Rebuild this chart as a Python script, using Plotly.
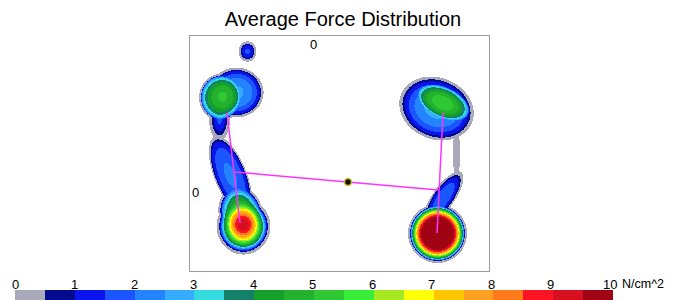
import numpy as np
import plotly.graph_objects as go

# ---------------- data (units: cm, origin at the reference cross) ----------------
# pressure regions read from the map: centre, outer half-sizes, tilt (deg),
# peak value (N/cm^2) and profile shape exponent
#             Ltoe  Lcore Llat  Lneck Lmid  Lhup  Lheel Rcore Rbase Rneck Rtong Rheel
blob_x     = [-6.6, -9.3, -7.7, -9.4, -8.3, -7.3, -7.0, 13.0, 12.3, 14.3, 13.0, 12.4]
blob_y     = [14.2,  9.6, 10.1,  7.4,  1.8, -1.9, -3.3,  9.1,  8.5,  4.0, -0.4, -4.0]
blob_sx    = [0.70, 1.95, 2.50, 0.90, 1.50, 2.00, 2.50, 2.75, 3.60, 0.30, 1.00, 2.75]
blob_sy    = [0.80, 2.15, 2.30, 1.90, 3.90, 2.40, 2.60, 1.50, 2.90, 2.30, 2.80, 2.75]
blob_angle = [0, 0, 0, 0, 22, 15, 0, -25, -22, 0, -35, 0]
blob_peak  = [1.6, 4.9, 2.6, 1.6, 2.1, 5.2, 9.0, 5.0, 2.7, 0.45, 2.0, 13.0]
blob_shape = [0.5, 0.35, 0.5, 1.0, 0.4, 0.6, 1.0, 0.35, 0.6, 1.0, 0.6, 0.7]

# magenta force lines
left_line_x  = [-8.6, -7.3]
left_line_y  = [8.0, -3.0]
right_line_x = [13.0, 12.4]
right_line_y = [8.0, -4.0]
cross_line_x = [-7.8, 12.5]
cross_line_y = [2.1, 0.3]

# centre of pressure
cop_x = [3.5]
cop_y = [1.1]

# colour scale (N/cm^2)
scale_ticks = [0, 1, 2, 3, 4, 5, 6, 7, 8, 9, 10]
band_colors = ["#a9aab9", "#020b8e", "#0a14ec", "#1a55ff", "#2484ff", "#36acff",
               "#34dadf", "#13806a", "#14a02a", "#22b22e", "#30c832", "#36ee36",
               "#a6e822", "#ffff0a", "#ffc600", "#ffa022", "#ff7a1a", "#ff1423",
               "#d61020", "#a00414"]
band_mid = [0.25, 0.75, 1.25, 1.75, 2.25, 2.75, 3.25, 3.75, 4.25, 4.75,
            5.25, 5.75, 6.25, 6.75, 7.25, 7.75, 8.25, 8.75, 9.25, 9.75]

x_range = [-12.3, 17.6]
y_range = [-7.8, 15.7]

# ---------------- build field ----------------
HALO = 0.2      # width (cm) of the faint low-pressure rim around each region
gx = np.arange(x_range[0], x_range[1] + 0.05, 0.1)
gy = np.arange(y_range[0], y_range[1] + 0.05, 0.1)
X, Y = np.meshgrid(gx, gy)
acc = np.zeros_like(X)
rim = np.zeros_like(X, dtype=bool)
K = 2.5
for cx, cy, sx, sy, ang, pk, a in zip(blob_x, blob_y, blob_sx, blob_sy,
                                      blob_angle, blob_peak, blob_shape):
    t = np.deg2rad(ang)
    dx, dy = X - cx, Y - cy
    u = dx * np.cos(t) + dy * np.sin(t)
    v = -dx * np.sin(t) + dy * np.cos(t)
    r = np.sqrt((u / sx) ** 2 + (v / sy) ** 2)
    z = pk * np.clip(1 - r ** 2, 0, None) ** a
    acc += z ** K
    rim |= r < 1 + HALO / ((sx + sy) / 2)
Z = acc ** (1.0 / K)
Z = np.where(rim & (Z < 0.3), np.maximum(Z, 0.3), Z)

# discrete colour scale: white for ~0, then 20 bands of 0.5
cs = [[0.0, "#ffffff"], [0.015, "#ffffff"]]
for i, c in enumerate(band_colors):
    lo = 0.0151 if i == 0 else i * 0.05
    cs.append([lo, c])
    cs.append([(i + 1) * 0.05 - 1e-6 if i < 19 else 1.0, c])

FONT = "Liberation Sans, Arial, Helvetica, sans-serif"

# the page body has an 8px margin: lay out in screen pixels minus that offset
OFF = 8
W, H = 673 - OFF, 300 - OFF
def px(p):
    return (p - OFF) / W
def py(p):
    return 1 - (p - OFF) / H

fig = go.Figure()
fig.add_trace(go.Heatmap(x=gx, y=gy, z=Z, zmin=0, zmax=10, colorscale=cs,
                         showscale=False, zsmooth=False, hoverinfo="skip",
                         xaxis="x", yaxis="y"))
for lx, ly in [(left_line_x, left_line_y), (right_line_x, right_line_y),
               (cross_line_x, cross_line_y)]:
    fig.add_trace(go.Scatter(x=lx, y=ly, mode="lines",
                             line=dict(color="#ff33ff", width=1.5),
                             showlegend=False, xaxis="x", yaxis="y"))
fig.add_trace(go.Scatter(x=cop_x, y=cop_y, mode="markers",
                         marker=dict(symbol="circle", size=7, color="#111111",
                                     line=dict(color="#c8c040", width=1.5)),
                         showlegend=False, xaxis="x", yaxis="y"))

# colour bar as its own strip
fig.add_trace(go.Heatmap(x=band_mid, y=[0.5], z=[band_mid], zmin=0, zmax=10,
                         colorscale=cs, showscale=False, hoverinfo="skip",
                         xaxis="x2", yaxis="y2"))

annotations = [
    dict(text="0", xref="x", yref="paper", x=0, y=py(45), yanchor="middle",
         showarrow=False, font=dict(size=13, family=FONT)),
    dict(text="0", xref="paper", yref="y", x=px(195), y=0, xanchor="center",
         yanchor="middle", showarrow=False, font=dict(size=13, family=FONT)),
    dict(text="N/cm^2", xref="paper", yref="paper", x=px(621), y=py(284),
         xanchor="left", yanchor="middle", showarrow=False, borderpad=0,
         font=dict(size=12.5, family=FONT)),
]
for t in scale_ticks:
    annotations.append(dict(text=str(t), xref="x2", yref="paper", x=t * 0.995,
                            y=py(284), xanchor="center", yanchor="middle",
                            showarrow=False, font=dict(size=13, family=FONT)))

fig.update_layout(
    width=W, height=H, margin=dict(l=0, r=0, t=0, b=0, autoexpand=False),
    paper_bgcolor="white", plot_bgcolor="white", showlegend=False,
    font=dict(family=FONT, color="black", size=13),
    title=dict(text="Average Force Distribution", x=px(343), xanchor="center",
               y=py(19), yanchor="middle",
               font=dict(family=FONT, size=20, color="black")),
    xaxis=dict(domain=[px(190), px(489)], range=x_range, showgrid=False,
               zeroline=False, showticklabels=False, ticks="", automargin=False,
               showline=True, mirror=True, linecolor="#9a9a9a", linewidth=1),
    yaxis=dict(domain=[py(271), py(36)], range=y_range, showgrid=False,
               zeroline=False, showticklabels=False, ticks="", automargin=False,
               showline=True, mirror=True, linecolor="#9a9a9a", linewidth=1),
    xaxis2=dict(domain=[px(15), px(613)], range=[0, 10], anchor="y2",
                showticklabels=False, ticks="", showgrid=False, zeroline=False,
                showline=False, automargin=False),
    yaxis2=dict(domain=[0, py(290)], range=[0, 1], visible=False),
    shapes=[dict(type="line", xref="x", yref="paper", x0=0, x1=0,
                 y0=py(271), y1=py(36),
                 line=dict(color="#e2b4be", width=1, dash="dot"), layer="below")],
    annotations=annotations,
)
fig.write_html("out.html")
